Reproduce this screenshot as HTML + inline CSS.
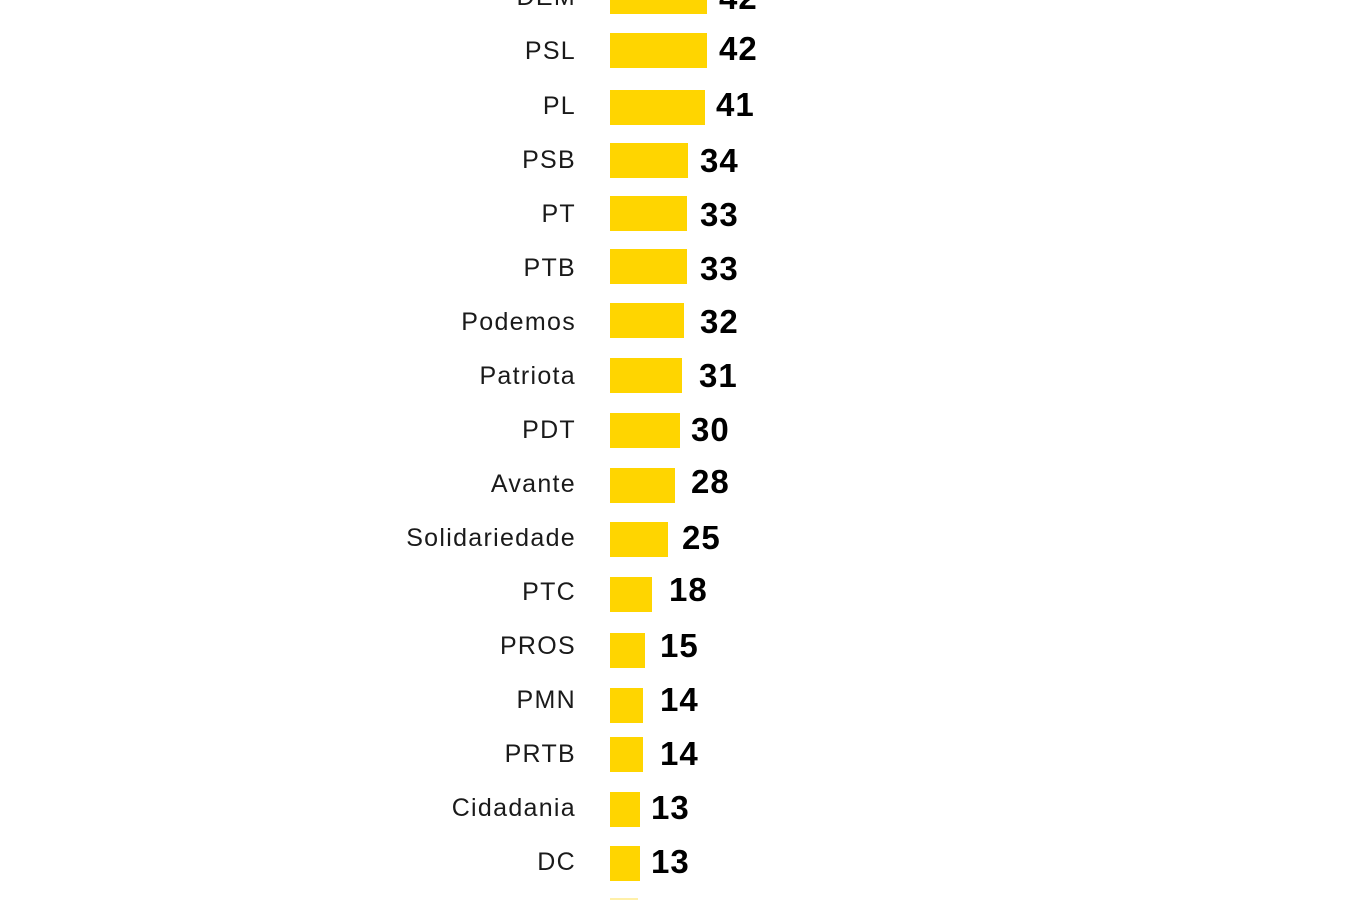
<!DOCTYPE html>
<html><head><meta charset="utf-8"><style>
body{margin:0;width:1366px;height:900px;background:#fff;position:relative;overflow:hidden;font-family:"Liberation Sans",sans-serif}
.l{position:absolute;right:791px;font-size:25px;color:#1a1a1a;line-height:34px;letter-spacing:1.3px;margin-right:-1px}
.b{position:absolute;left:610px;height:35px;background:#FFD500}
.n{position:absolute;font-size:33px;font-weight:bold;color:#000;line-height:34px;letter-spacing:1px}
</style></head><body>
<div class="l" style="top:-20px">DEM</div><div class="b" style="top:-21px;width:97px"></div><div class="n" style="top:-19px;left:719px">42</div>
<div class="l" style="top:34px">PSL</div><div class="b" style="top:33px;width:97px"></div><div class="n" style="top:32px;left:719px">42</div>
<div class="l" style="top:89px">PL</div><div class="b" style="top:90px;width:95px"></div><div class="n" style="top:88px;left:716px">41</div>
<div class="l" style="top:143px">PSB</div><div class="b" style="top:143px;width:78px"></div><div class="n" style="top:144px;left:700px">34</div>
<div class="l" style="top:197px">PT</div><div class="b" style="top:196px;width:77px"></div><div class="n" style="top:198px;left:700px">33</div>
<div class="l" style="top:251px">PTB</div><div class="b" style="top:249px;width:77px"></div><div class="n" style="top:252px;left:700px">33</div>
<div class="l" style="top:305px">Podemos</div><div class="b" style="top:303px;width:74px"></div><div class="n" style="top:305px;left:700px">32</div>
<div class="l" style="top:359px">Patriota</div><div class="b" style="top:358px;width:72px"></div><div class="n" style="top:359px;left:699px">31</div>
<div class="l" style="top:413px">PDT</div><div class="b" style="top:413px;width:70px"></div><div class="n" style="top:413px;left:691px">30</div>
<div class="l" style="top:467px">Avante</div><div class="b" style="top:468px;width:65px"></div><div class="n" style="top:465px;left:691px">28</div>
<div class="l" style="top:521px">Solidariedade</div><div class="b" style="top:522px;width:58px"></div><div class="n" style="top:521px;left:682px">25</div>
<div class="l" style="top:575px">PTC</div><div class="b" style="top:577px;width:42px"></div><div class="n" style="top:573px;left:669px">18</div>
<div class="l" style="top:629px">PROS</div><div class="b" style="top:633px;width:35px"></div><div class="n" style="top:629px;left:660px">15</div>
<div class="l" style="top:683px">PMN</div><div class="b" style="top:688px;width:33px"></div><div class="n" style="top:683px;left:660px">14</div>
<div class="l" style="top:737px">PRTB</div><div class="b" style="top:737px;width:33px"></div><div class="n" style="top:737px;left:660px">14</div>
<div class="l" style="top:791px">Cidadania</div><div class="b" style="top:792px;width:30px"></div><div class="n" style="top:791px;left:651px">13</div>
<div class="l" style="top:845px">DC</div><div class="b" style="top:846px;width:30px"></div><div class="n" style="top:845px;left:651px">13</div>
<div class="b" style="top:898px;width:28px;height:2px;background:#FFF0A8"></div>
</body></html>
